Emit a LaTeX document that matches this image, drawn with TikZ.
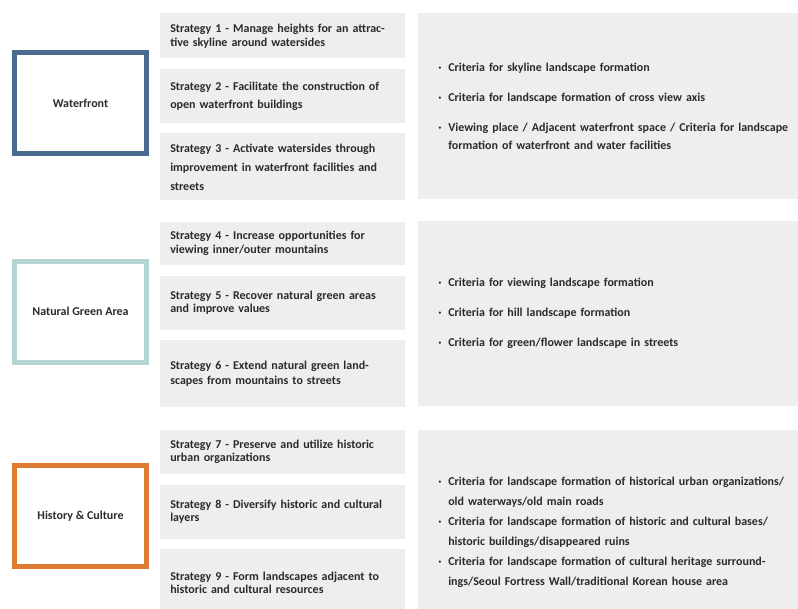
\documentclass[tikz,border=0pt]{standalone}
\usepackage{fontspec}
\setmainfont{Carlito}
\usepackage{xcolor}
\usetikzlibrary{positioning}
\definecolor{WaterBlue}{HTML}{4A6B90}
\definecolor{GreenTeal}{HTML}{B5D5D4}
\definecolor{HeritageOrange}{HTML}{DE7B32}
\definecolor{PanelGray}{HTML}{EEEEEE}
\definecolor{TextGray}{HTML}{2B2B2B}
\newcommand{\dotitem}{\makebox[7.5pt][l]{\textperiodcentered}}
\newcommand{\dotcont}{\hspace*{7.5pt}}

\begin{document}
\begin{tikzpicture}[
  x=0.75pt, y=-0.75pt,
  node distance=7.5pt,
  lines/.style={font=\bfseries\fontsize{9}{#1}\selectfont},
  theme/.style={draw=#1, line width=3.75pt, fill=white, minimum width=99pt, minimum height=75.75pt,
    align=center, lines=10pt, text=TextGray},
  strat/.style={fill=PanelGray, text width=168.75pt, inner xsep=7.5pt, inner ysep=0pt,
    align=left, lines=9.75pt, text=TextGray, anchor=north west},
  crit/.style={fill=PanelGray, text width=275pt, inner xsep=15pt, inner ysep=0pt,
    align=left, lines=14.25pt, text=TextGray, anchor=north west}
]
\useasboundingbox (0,0) rectangle (798,608);
\clip (0,0) rectangle (798,608);

\node[theme=WaterBlue] (wf) at (80.5,103) {Waterfront};
\node[strat, minimum height=33.75pt, lines=10.5pt] (s1) at (160,13) {Strategy 1 - Manage heights for an attrac-\\tive skyline around watersides};
\node[strat, below=of s1, minimum height=40.5pt, lines=13.5pt] (s2) {Strategy 2 - Facilitate the construction of\\open waterfront buildings};
\node[strat, below=of s2, minimum height=50.25pt, lines=14.25pt] (s3) {Strategy 3 - Activate watersides through\\improvement in waterfront facilities and\\streets};
\node[crit, minimum height=139.5pt] (c1) at (418,13) {%
  \dotitem Criteria for skyline landscape formation\\[8.25pt]
  \dotitem Criteria for landscape formation of cross view axis\\[8.25pt]
  \dotitem Viewing place / Adjacent waterfront space / Criteria for landscape\\[-0.75pt]
  \dotcont formation of waterfront and water facilities};

\node[theme=GreenTeal] (nga) at (80.5,311.5) {Natural Green Area};
\node[strat, minimum height=32.25pt, lines=10.5pt] (s4) at (160,222) {Strategy 4 - Increase opportunities for\\viewing inner/outer mountains};
\node[strat, below=of s4, minimum height=40.5pt] (s5) {Strategy 5 - Recover natural green areas\\and improve values};
\node[strat, below=of s5, minimum height=50.25pt, lines=11.25pt] (s6) {Strategy 6 - Extend natural green land-\\scapes from mountains to streets};
\node[crit, minimum height=138.75pt] (c2) at (418,221) {%
  \dotitem Criteria for viewing landscape formation\\[8.25pt]
  \dotitem Criteria for hill landscape formation\\[8.25pt]
  \dotitem Criteria for green/flower landscape in streets};

\node[theme=HeritageOrange] (hc) at (80.5,516) {History \& Culture};
\node[strat, minimum height=33pt] (s7) at (160,430) {Strategy 7 - Preserve and utilize historic\\urban organizations};
\node[strat, below=of s7, minimum height=40.5pt] (s8) {Strategy 8 - Diversify historic and cultural\\layers};
\node[strat, below=of s8, minimum height=50.25pt] (s9) {Strategy 9 - Form landscapes adjacent to\\historic and cultural resources};
\node[crit, minimum height=153.75pt, lines=15pt] (c3) at (418,430) {%
  \dotitem Criteria for landscape formation of historical urban organizations/\\
  \dotcont old waterways/old main roads\\
  \dotitem Criteria for landscape formation of historic and cultural bases/\\
  \dotcont historic buildings/disappeared ruins\\
  \dotitem Criteria for landscape formation of cultural heritage surround-\\
  \dotcont ings/Seoul Fortress Wall/traditional Korean house area};
\end{tikzpicture}
\end{document}
